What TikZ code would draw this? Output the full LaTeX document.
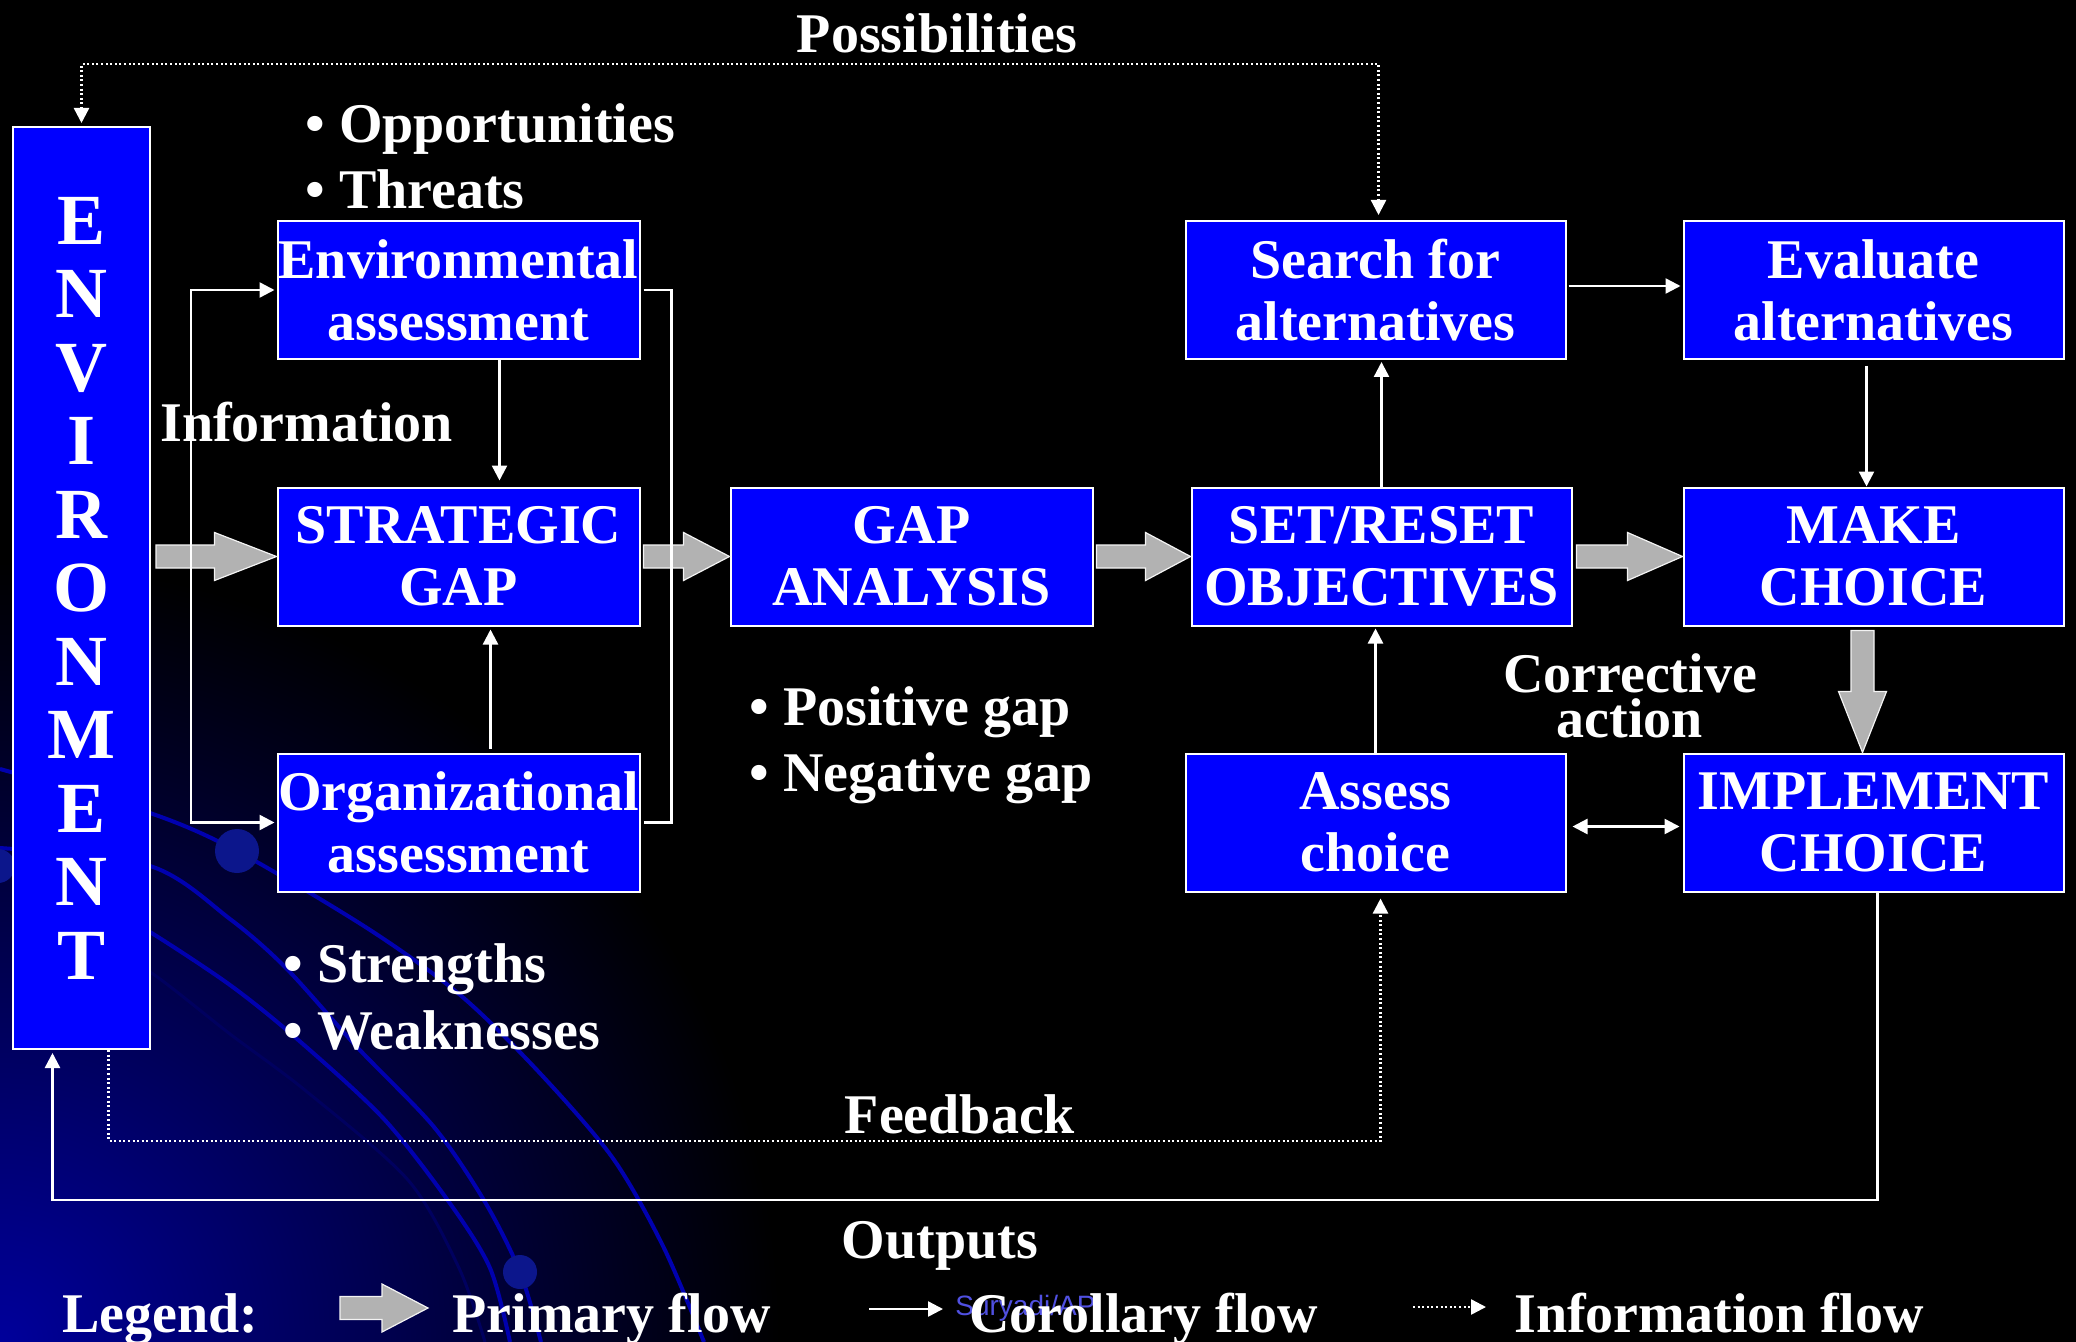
\documentclass[tikz,border=0pt]{standalone}
\usepackage{fontspec}
\setmainfont{Liberation Serif}
\newfontfamily\credfont{Liberation Sans}
\usetikzlibrary{arrows.meta,calc}

\definecolor{boxblue}{RGB}{0,0,255}
\definecolor{flowgray}{RGB}{178,178,178}
\definecolor{deepnavy}{RGB}{0,0,155}
\definecolor{curveblue}{RGB}{0,0,175}
\definecolor{curvedark}{RGB}{0,0,95}
\definecolor{dotblue}{RGB}{12,22,140}
\definecolor{credblue}{RGB}{80,80,225}

\tikzset{
  >={Triangle[length=7.5pt,width=7.5pt]},
  stage/.style={draw=white, line width=1pt, fill=boxblue, text=white,
    font=\bfseries\fontsize{28}{31}\selectfont, align=center,
    inner sep=0pt, minimum height=69pt, minimum width=#1},
  stage/.default=181pt,
  txt/.style={text=white, font=\bfseries\fontsize{28}{31}\selectfont, inner sep=0pt},
  plainline/.style={draw=white, line width=1.2pt},
  corflow/.style={plainline, ->},
  infoflow/.style={corflow, dash pattern=on 1pt off 1.3pt},
  primary/.style={fill=flowgray, draw=white!85!flowgray, line width=0.6pt,
    to path={let \p1=(\tikztostart), \p2=(\tikztotarget),
      \n1={atan2(\y2-\y1,\x2-\x1)}, \n2={veclen(\x2-\x1,\y2-\y1)-#1} in
      -- ++(\n1+90:5.75pt) -- ++(\n1:\n2) -- ++(\n1+90:6.25pt)
      -- (\tikztotarget) -- ($(\tikztotarget)+(\n1+180:#1)+(\n1-90:12pt)$)
      -- ++(\n1+90:6.25pt) -- ++(\n1+180:\n2) -- cycle}},
  bgcurve/.style={draw=curveblue, line width=2pt},
}

\begin{document}
\begin{tikzpicture}[x=0.5pt, y=-0.5pt]
\useasboundingbox (0,0) rectangle (2076,1342);
\fill[black] (0,0) rectangle (2076,1342);

% background
\begin{scope}
\clip (0,0) rectangle (2076,1342);
\shade[inner color=deepnavy, outer color=black] (0,1342) circle[radius=390pt];
\draw[bgcurve] plot[smooth] coordinates {(0,769) (150,813) (237,851) (367,928) (459,994) (536,1069) (612,1157) (663,1246) (704,1342)};
\draw[bgcurve] plot[smooth] coordinates {(0,848) (150,866) (230,919) (286,968) (357,1047) (434,1127) (485,1202) (520,1272) (541,1342)};
\draw[bgcurve] plot[smooth] coordinates {(100,905) (150,932) (230,985) (296,1038) (383,1118) (449,1202) (490,1268) (510,1342)};
\draw[curvedark, line width=1.5pt] plot[smooth] coordinates {(100,950) (150,972) (230,1034) (306,1091) (408,1180) (459,1268) (485,1342)};
\fill[dotblue] (237,851) circle[radius=11pt];
\fill[dotblue] (520,1272) circle[radius=8.5pt];
\fill[dotblue] (-2,866) circle[radius=8.5pt];
\end{scope}

% boxes
\node[stage=68.5pt, minimum height=461pt, font=\bfseries\fontsize{36}{36.75}\selectfont] (env) at (81.5,588) {E\\N\\V\\I\\R\\O\\N\\M\\E\\N\\T};
\node[stage] (ea) at (458.5,290) {Environmental\\assessment};
\node[stage] (sg) at (458.5,556.5) {STRATEGIC\\GAP};
\node[stage] (oa) at (458.5,822.5) {Organizational\\assessment};
\node[stage] (ga) at (911.5,556.5) {GAP\\ANALYSIS};
\node[stage=190pt] (sr) at (1381.5,556.5) {SET/RESET\\OBJECTIVES};
\node[stage=190pt] (search) at (1375.5,290) {Search for\\alternatives};
\node[stage=190pt] (assess) at (1375.5,822.5) {Assess\\choice};
\node[stage=190pt] (eval) at (1873.5,290) {Evaluate\\alternatives};
\node[stage=190pt] (mc) at (1873.5,556.5) {MAKE\\CHOICE};
\node[stage=190pt] (ic) at (1873.5,822.5) {IMPLEMENT\\CHOICE};

% primary flow
\path[primary=31pt] ($(env.east |- sg.west)+(2.5pt,0)$) to (sg.west);
\path[primary=23pt] ($(sg.east)+(1.5pt,0)$) to (ga.west);
\path[primary=22.5pt] ($(ga.east)+(1.5pt,0)$) to (sr.west);
\path[primary=27.5pt] ($(sr.east)+(2pt,0)$) to (mc.west);
\path[primary=30.5pt] ($(mc.south)+(-5.5pt,-2pt)$) to ($(ic.north)+(-5.5pt,0)$);

% corollary and information flow
\coordinate (infomid) at (191,556);
\coordinate (brk) at (671.5,556);
\coordinate (poss) at (700,64);
\coordinate (fbk) at (700,1141);
\coordinate (outk) at (900,1200);
\draw[corflow, shorten >=1pt] (infomid) |- (ea.west);
\draw[corflow, shorten >=1pt] (infomid) |- (oa.west);
\draw[plainline] ($(ea.east)+(1.5pt,0)$) -| (brk) |- ($(oa.east)+(1.5pt,0)$);
\draw[corflow, shorten >=3pt] ([xshift=20.5pt]ea.south) -- ([xshift=20.5pt]sg.north);
\draw[corflow, shorten <=2pt, shorten >=1.5pt] ([xshift=16pt]oa.north) -- ([xshift=16pt]sg.south);
\draw[corflow, shorten >=1pt] (sr.north) -- (sr.north |- search.south);
\draw[corflow, shorten >=1pt] (assess.north) -- (assess.north |- sr.south);
\draw[corflow, shorten <=1pt, shorten >=1pt] ([yshift=2pt]search.east) -- ([yshift=2pt]search.east -| eval.west);
\draw[corflow, shorten <=3pt] ([xshift=-3.5pt]eval.south) -- ([xshift=-3.5pt]mc.north);
\draw[corflow, <->, shorten <=3pt, shorten >=1.5pt] ([yshift=-2pt]assess.east) -- ([yshift=-2pt]assess.east -| ic.west);
\draw[infoflow, <->, shorten <=2.5pt, shorten >=1.5pt] ([xshift=1.5pt]search.north) |- (poss) -| (env.north);
\draw[infoflow, shorten >=3pt] ([xshift=13.5pt]env.south) |- (fbk) -| ([xshift=2.5pt]assess.south);
\draw[corflow, shorten >=1.5pt] ([xshift=2pt]ic.south) |- (outk) -| ([xshift=-14.5pt]env.south);

% labels
\node[txt, anchor=base] (possibilities) at (937,53) {Possibilities};
\node[txt, anchor=base west] (opport) at (305,143) {• Opportunities};
\node[txt, anchor=base west] (threats) at (305,209) {• Threats};
\node[txt, anchor=base west] (information) at (160,441) {Information};
\node[txt, anchor=base west] (posgap) at (749,725) {• Positive gap};
\node[txt, anchor=base west] (neggap) at (749,791) {• Negative gap};
\node[txt, anchor=base west] (strengths) at (283,982) {• Strengths};
\node[txt, anchor=base west] (weakness) at (283,1049) {• Weaknesses};
\node[txt, anchor=base] (corrective) at (1630,692) {Corrective};
\node[txt, anchor=base] (action) at (1630,737) {action};
\node[txt, anchor=base] (feedback) at (960,1133) {Feedback};
\node[txt, anchor=base] (outputs) at (940,1258) {Outputs};

% legend
\coordinate (lgP1) at (340,1308);
\coordinate (lgP2) at (428,1308);
\coordinate (lgC1) at (869,1309);
\coordinate (lgC2) at (943,1309);
\coordinate (lgI1) at (1413,1307);
\coordinate (lgI2) at (1486,1307);
\node[txt, anchor=base west] (legend) at (62,1332) {Legend:};
\path[primary=23pt] (lgP1) to (lgP2);
\node[txt, anchor=base west] (primleg) at (452,1332) {Primary flow};
\draw[corflow] (lgC1) -- (lgC2);
\node[anchor=base west, inner sep=0pt, text=credblue, font=\credfont\fontsize{14}{16}\selectfont] (credit) at (955,1315) {Suryadi/AP};
\node[txt, anchor=base west] (corleg) at (969,1332) {Corollary flow};
\draw[infoflow] (lgI1) -- (lgI2);
\node[txt, anchor=base west] (infoleg) at (1514,1332) {Information flow};
\end{tikzpicture}
\end{document}
